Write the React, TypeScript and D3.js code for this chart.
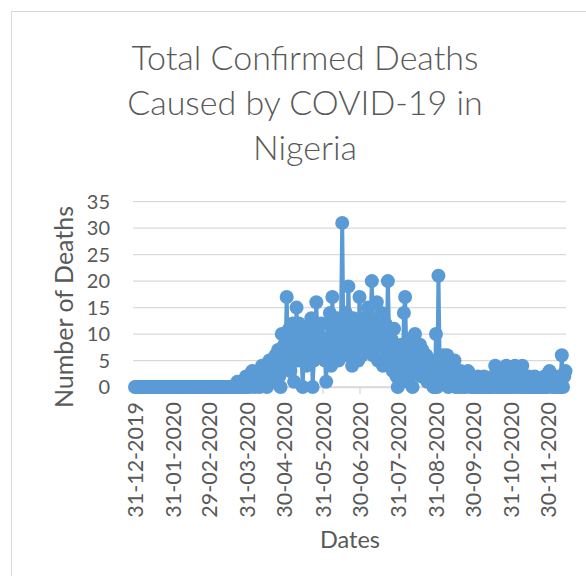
import React, { useEffect, useRef } from 'react';
import * as d3 from 'd3';

// daily confirmed deaths (31-12-2019 .. 14-12-2020)
const deathsDec2019 = [0];
const deathsJan2020 = [0, 0, 0, 0, 0, 0, 0, 0, 0, 0, 0, 0, 0, 0, 0, 0, 0, 0, 0, 0, 0, 0, 0, 0, 0, 0, 0, 0, 0, 0, 0];
const deathsFeb2020 = [0, 0, 0, 0, 0, 0, 0, 0, 0, 0, 0, 0, 0, 0, 0, 0, 0, 0, 0, 0, 0, 0, 0, 0, 0, 0, 0, 0, 0];
const deathsMar2020 = [0, 0, 0, 0, 0, 0, 0, 0, 0, 0, 0, 0, 0, 0, 0, 0, 0, 0, 0, 0, 0, 0, 1, 0, 0, 0, 1, 0, 0, 2, 0];
const deathsApr2020 = [1, 0, 2, 3, 1, 0, 2, 1, 3, 0, 2, 4, 1, 3, 2, 0, 4, 5, 2, 3, 1, 4, 6, 3, 7, 2, 0, 10, 5, 8];
const deathsMay2020 = [6, 17, 4, 11, 3, 8, 12, 1, 7, 15, 5, 12, 8, 6, 0, 9, 10, 4, 11, 7, 5, 13, 0, 5, 9, 16, 8, 10, 6, 12, 6];
const deathsJun2020 = [9, 5, 1, 12, 7, 14, 4, 17, 6, 11, 8, 13, 5, 9, 12, 31, 7, 10, 14, 6, 19, 8, 11, 4, 13, 9, 7, 12, 5, 17];
const deathsJul2020 = [10, 6, 13, 8, 11, 7, 15, 9, 12, 20, 6, 10, 8, 16, 5, 11, 9, 14, 4, 8, 12, 7, 20, 10, 5, 9, 3, 11, 6, 2, 0];
const deathsAug2020 = [5, 3, 8, 1, 14, 17, 6, 4, 9, 2, 7, 0, 5, 10, 3, 6, 4, 8, 2, 7, 5, 3, 6, 1, 4, 2, 5, 3, 0, 0, 10];
const deathsSep2020 = [0, 21, 4, 2, 5, 6, 1, 3, 6, 0, 2, 4, 1, 3, 5, 0, 2, 1, 0, 3, 1, 0, 2, 0, 1, 3, 2, 0, 1, 0];
const deathsOct2020 = [0, 1, 0, 2, 0, 0, 1, 0, 2, 0, 1, 0, 0, 1, 0, 2, 0, 4, 1, 0, 0, 2, 0, 1, 0, 0, 4, 0, 1, 0, 2];
const deathsNov2020 = [0, 1, 4, 0, 1, 0, 2, 0, 4, 0, 1, 0, 0, 2, 0, 1, 0, 0, 2, 0, 0, 1, 0, 0, 1, 0, 2, 0, 0, 1];
const deathsDec2020 = [3, 1, 0, 2, 0, 1, 0, 0, 2, 0, 6, 0, 2, 3];

const tickLabels = [
  '31-12-2019', '31-01-2020', '29-02-2020', '31-03-2020', '30-04-2020', '31-05-2020',
  '30-06-2020', '31-07-2020', '31-08-2020', '30-09-2020', '31-10-2020', '30-11-2020',
];
const yTicks = [0, 5, 10, 15, 20, 25, 30, 35];
const titleLines = ['Total Confirmed Deaths', 'Caused by COVID-19 in', 'Nigeria'];

const DAY = 86400000;
const FONT = 'Lato, "Open Sans", sans-serif';
const GREY = '#595959';

const App = () => {
  const chartRef = useRef<SVGSVGElement>(null);

  useEffect(() => {
    const svg = d3.select(chartRef.current);
    svg.selectAll('*').remove();

    const values = [
      ...deathsDec2019, ...deathsJan2020, ...deathsFeb2020, ...deathsMar2020, ...deathsApr2020,
      ...deathsMay2020, ...deathsJun2020, ...deathsJul2020, ...deathsAug2020, ...deathsSep2020,
      ...deathsOct2020, ...deathsNov2020, ...deathsDec2020,
    ];
    const start = Date.UTC(2019, 11, 31);
    const data = values.map((v, i) => ({ date: new Date(start + i * DAY), value: v }));
    const parse = d3.utcParse('%d-%m-%Y');
    const tickDates = tickLabels.map(t => parse(t) as Date);

    const x = d3.scaleUtc()
      .domain([new Date(start - 1.6 * DAY), new Date(start + 349.4 * DAY)])
      .range([133, 566]);
    const y = d3.scaleLinear().domain([0, 35]).range([387, 201.7]);

    // chart frame
    svg.append('rect')
      .attr('x', 11.5).attr('y', 11.5)
      .attr('width', 620).attr('height', 620)
      .attr('fill', '#fff').attr('stroke', '#d9d9d9');

    // title
    svg.append('g').selectAll('text')
      .data(titleLines)
      .enter()
      .append('text')
      .attr('x', 305)
      .attr('y', (d, i) => 70 + i * 45)
      .attr('text-anchor', 'middle')
      .style('font-family', FONT)
      .style('font-size', '34px')
      .style('font-weight', 300)
      .style('fill', GREY)
      .text(d => d);

    // gridlines + y labels
    const grid = svg.append('g');
    grid.selectAll('line')
      .data(yTicks)
      .enter()
      .append('line')
      .attr('x1', 133).attr('x2', 566)
      .attr('y1', d => y(d)).attr('y2', d => y(d))
      .attr('stroke', '#d9d9d9').attr('stroke-width', 1.3);
    grid.selectAll('text')
      .data(yTicks)
      .enter()
      .append('text')
      .attr('x', 110)
      .attr('y', d => y(d))
      .attr('dy', '0.36em')
      .attr('text-anchor', 'end')
      .style('font-family', FONT)
      .style('font-size', '20px')
      .style('fill', GREY)
      .text(d => d);

    // x axis
    const xAxis = d3.axisBottom(x)
      .tickValues(tickDates)
      .tickSize(7)
      .tickSizeOuter(0)
      .tickFormat((d, i) => tickLabels[i]);
    const gx = svg.append('g').attr('transform', `translate(0,${y(0)})`).call(xAxis);
    gx.select('.domain').attr('stroke', '#d9d9d9').attr('stroke-width', 1.3);
    gx.selectAll('.tick line').attr('stroke', '#d9d9d9').attr('stroke-width', 1.3);
    gx.selectAll('.tick text')
      .attr('transform', 'rotate(-90)')
      .attr('x', -15)
      .attr('y', 0)
      .attr('dy', '0.36em')
      .attr('text-anchor', 'end')
      .style('font-family', FONT)
      .style('font-size', '21.5px')
      .style('fill', GREY);

    // series
    const line = d3.line<{ date: Date; value: number }>()
      .x(d => x(d.date))
      .y(d => y(d.value));
    svg.append('path')
      .datum(data)
      .attr('d', line)
      .attr('fill', 'none')
      .attr('stroke', '#5B9BD5')
      .attr('stroke-width', 4)
      .attr('stroke-linejoin', 'round');
    svg.append('g').selectAll('circle')
      .data(data)
      .enter()
      .append('circle')
      .attr('cx', d => x(d.date))
      .attr('cy', d => y(d.value))
      .attr('r', 7)
      .attr('fill', '#5B9BD5');

    // axis titles
    svg.append('text')
      .attr('transform', 'translate(64,307) rotate(-90)')
      .attr('dy', '0.36em')
      .attr('text-anchor', 'middle')
      .style('font-family', FONT)
      .style('font-size', '25px')
      .style('fill', GREY)
      .text('Number of Deaths');
    svg.append('text')
      .attr('x', 350)
      .attr('y', 540)
      .attr('dy', '0.36em')
      .attr('text-anchor', 'middle')
      .style('font-family', FONT)
      .style('font-size', '23.5px')
      .style('fill', GREY)
      .text('Dates');
  }, []);

  return (
    <svg ref={chartRef} width={586} height={576} style={{ position: 'absolute', left: 0, top: 0 }}></svg>
  );
};

export default App;
